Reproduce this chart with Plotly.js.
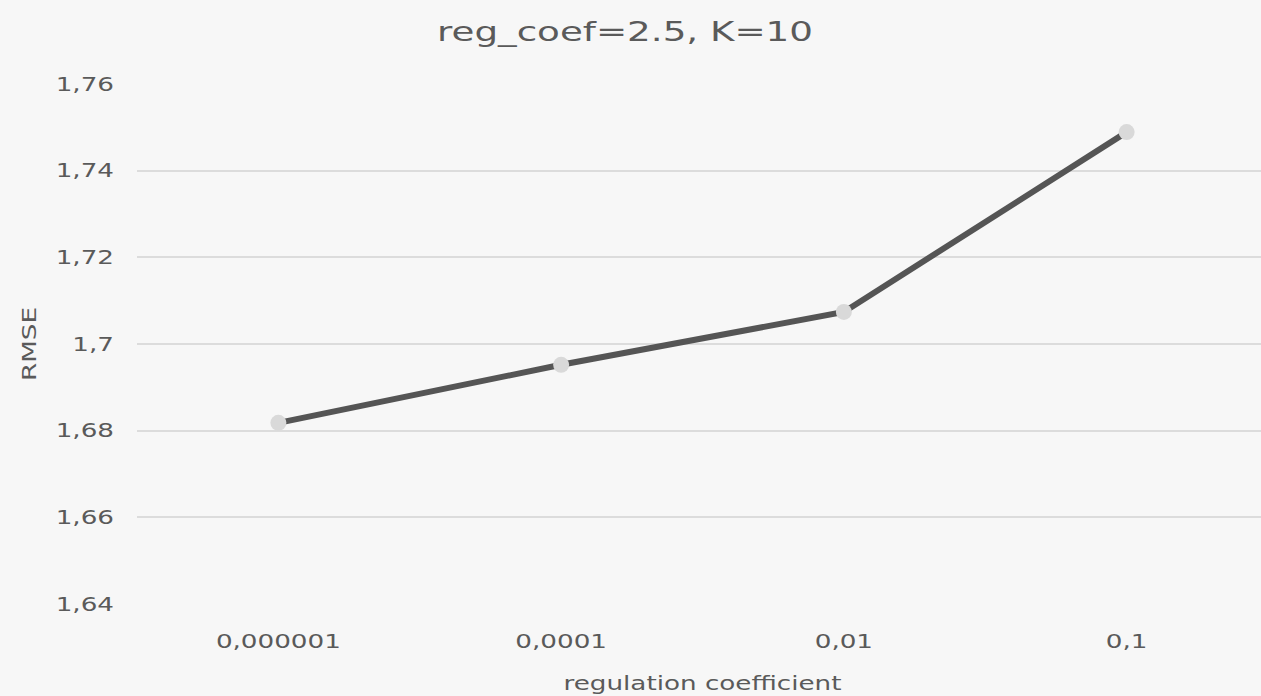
<!DOCTYPE html>
<html>
<head>
<meta charset="utf-8">
<script src="https://cdn.plot.ly/plotly-3.0.1.min.js"></script>
<style>
html,body{margin:0;padding:0;overflow:hidden;background:#f7f7f7;}
#chart{width:1268px;height:696px;}
</style>
</head>
<body>
<div id="chart"></div>
<script>
const categories = ["0,000001", "0,0001", "0,01", "0,1"];
const rmse = [1.6818, 1.6952, 1.7074, 1.7489];
const yTicks = [1.64, 1.66, 1.68, 1.70, 1.72, 1.74, 1.76];

const textColor = "#5a5a5a";
const fontFam = "'DejaVu Sans', 'Liberation Sans', Arial, sans-serif";
const textStretch = 1.38;

const trace = {
  x: categories,
  y: rmse,
  type: "scatter",
  mode: "lines+markers",
  line: {color: "#555555", width: 6},
  marker: {color: "#d9d9d9", size: 16},
  hoverinfo: "skip"
};

const layout = {
  width: 1268,
  height: 696,
  paper_bgcolor: "#f7f7f7",
  plot_bgcolor: "#f7f7f7",
  separators: ", ",
  margin: {l: 137, r: 0, t: 84, b: 92},
  showlegend: false,
  title: {
    text: "reg_coef=2.5, K=10",
    font: {family: fontFam, size: 27, color: textColor},
    x: 0.4929, xref: "container", xanchor: "center",
    y: 0.955, yref: "container", yanchor: "middle"
  },
  xaxis: {
    type: "category",
    range: [-0.5, 3.5],
    showgrid: false,
    zeroline: false,
    showline: false,
    ticks: "",
    ticklabelstandoff: 24,
    tickfont: {family: fontFam, size: 19, color: textColor},
    title: {text: "regulation coefficient", font: {family: fontFam, size: 19, color: textColor}, standoff: 25}
  },
  yaxis: {
    range: [1.64, 1.76],
    tickvals: yTicks,
    showgrid: true,
    gridcolor: "#dcdcdc",
    gridwidth: 2,
    zeroline: false,
    showline: false,
    ticks: "",
    ticklabelstandoff: 22,
    tickfont: {family: fontFam, size: 19, color: textColor},
    title: {text: "RMSE", font: {family: fontFam, size: 19, color: textColor}, standoff: 30}
  }
};

Plotly.newPlot("chart", [trace], layout, {displayModeBar: false, staticPlot: true}).then(function (gd) {
  // widen the glyphs horizontally around each text anchor to mimic the reference's wide typeface
  gd.querySelectorAll("svg text").forEach(function (t) {
    const x = parseFloat(t.getAttribute("x")) || 0;
    const y = parseFloat(t.getAttribute("y")) || 0;
    const prev = t.getAttribute("transform") || "";
    t.setAttribute("transform", prev + " translate(" + x + "," + y + ") scale(" + textStretch + ",1) translate(" + (-x) + "," + (-y) + ")");
  });
});
</script>
</body>
</html>
